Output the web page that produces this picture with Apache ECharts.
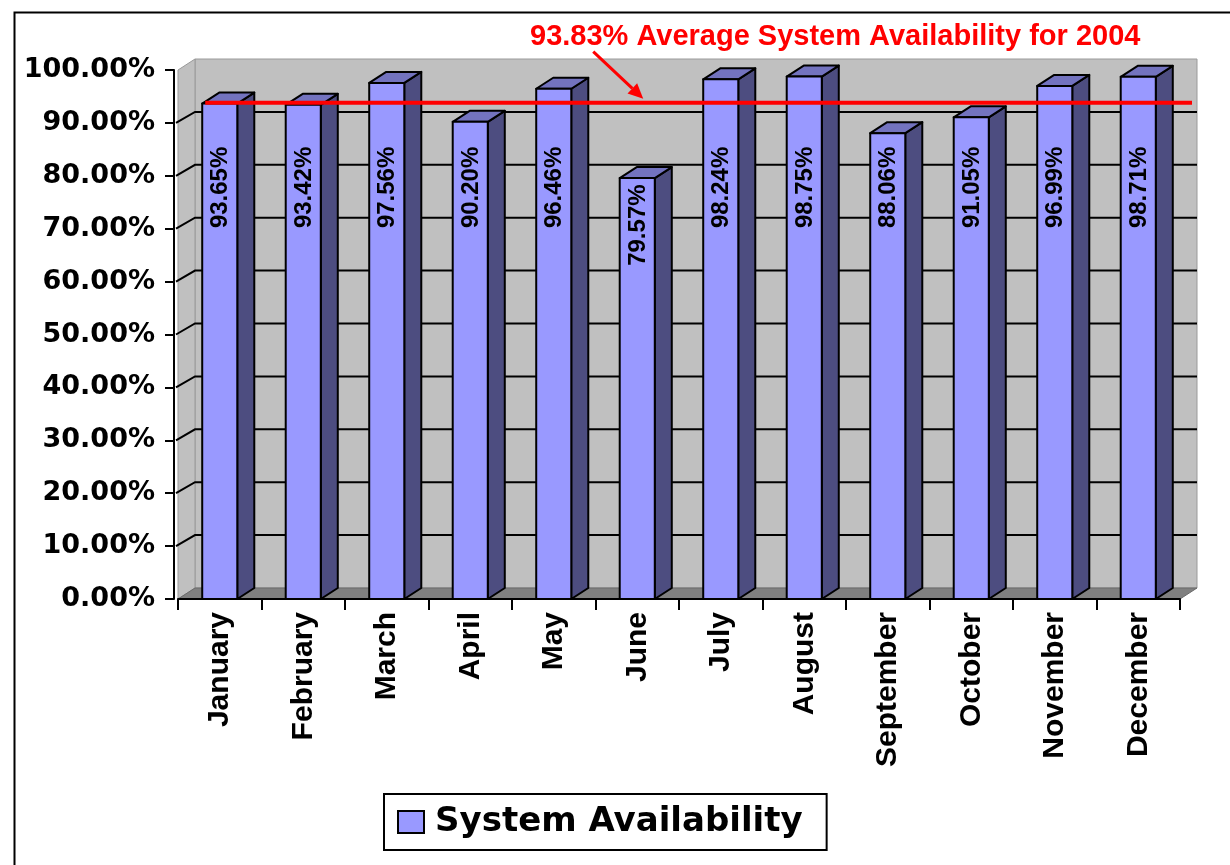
<!DOCTYPE html>
<html>
<head>
<meta charset="utf-8">
<title>System Availability 2004</title>
<script src="https://cdn.jsdelivr.net/npm/echarts@6/dist/echarts.min.js"></script>
<style>
  html, body { margin: 0; padding: 0; background: #ffffff; }
  #chart { width: 1230px; height: 865px; }
</style>
</head>
<body>
<div id="chart"></div>
<script>
// Monthly system availability (%) for 2004
const months = ['January', 'February', 'March', 'April', 'May', 'June',
                'July', 'August', 'September', 'October', 'November', 'December'];
const availability = [93.65, 93.42, 97.56, 90.20, 96.46, 79.57,
                      98.24, 98.75, 88.06, 91.05, 96.99, 98.71];
const averageAvailability = 93.83;
const reportYear = '2004';
const seriesName = 'System Availability';
const gridValues = [10, 20, 30, 40, 50, 60, 70, 80, 90];

// 3D look: offset of the back plane relative to the front plane
const DEPTH_X = 17;
const DEPTH_Y = -11;
const BAR_RATIO = 0.42;

const FONT_ARIAL = '"Liberation Sans", Arial, sans-serif';
const FONT_WIDE = '"DejaVu Sans", Verdana, sans-serif';

const chart = echarts.init(document.getElementById('chart'), null, { renderer: 'canvas' });

// Back wall, side wall, floor and the back-wall gridlines
function renderWalls(params, api) {
  const cs = params.coordSys;
  const left = cs.x, right = cs.x + cs.width;
  const top = cs.y, bottom = cs.y + cs.height;
  const children = [];
  // back wall
  children.push({
    type: 'rect',
    shape: { x: left + DEPTH_X, y: top + DEPTH_Y, width: right - left, height: bottom - top },
    style: { fill: '#C0C0C0', stroke: '#9a9a9a', lineWidth: 1 }
  });
  // left side wall
  children.push({
    type: 'polygon',
    shape: { points: [[left, top], [left + DEPTH_X, top + DEPTH_Y], [left + DEPTH_X, bottom + DEPTH_Y], [left, bottom]] },
    style: { fill: '#C0C0C0', stroke: '#9a9a9a', lineWidth: 1 }
  });
  // floor
  children.push({
    type: 'polygon',
    shape: { points: [[left, bottom], [left + DEPTH_X, bottom + DEPTH_Y], [right + DEPTH_X, bottom + DEPTH_Y], [right, bottom]] },
    style: { fill: '#808080', stroke: '#6a6a6a', lineWidth: 1 }
  });
  // gridlines along the side wall and across the back wall
  gridValues.forEach(function (g) {
    const y = api.coord([0, g])[1];
    children.push({
      type: 'polyline',
      shape: { points: [[left - 2, y], [left + DEPTH_X, y + DEPTH_Y], [right + DEPTH_X, y + DEPTH_Y]] },
      style: { stroke: '#000', lineWidth: 2, fill: null }
    });
  });
  return { type: 'group', children: children };
}

// One 3D column per month: front face, right side, top, and its value label
function renderColumn(params, api) {
  const idx = api.value(0);
  const val = api.value(1);
  const topPt = api.coord([idx, val]);
  const basePt = api.coord([idx, 0]);
  const bw = api.size([1, 0])[0] * BAR_RATIO;
  const x0 = topPt[0] - bw / 2;
  const x1 = topPt[0] + bw / 2;
  const ty = topPt[1];
  const by = basePt[1];
  const edge = { stroke: '#000', lineWidth: 2, lineJoin: 'round' };
  const labelY = api.coord([idx, Math.min(val - 1.2, 85.5)])[1];
  return {
    type: 'group',
    children: [
      {
        type: 'polygon',
        shape: { points: [[x1, ty], [x1 + DEPTH_X, ty + DEPTH_Y], [x1 + DEPTH_X, by + DEPTH_Y], [x1, by]] },
        style: Object.assign({ fill: '#4D4D80' }, edge)
      },
      {
        type: 'polygon',
        shape: { points: [[x0, ty], [x0 + DEPTH_X, ty + DEPTH_Y], [x1 + DEPTH_X, ty + DEPTH_Y], [x1, ty]] },
        style: Object.assign({ fill: '#7373BF' }, edge)
      },
      {
        type: 'rect',
        shape: { x: x0, y: ty, width: bw, height: by - ty },
        style: Object.assign({ fill: '#9999FF' }, edge)
      },
      {
        type: 'text',
        x: topPt[0] + 1,
        y: labelY,
        rotation: Math.PI / 2,
        style: {
          text: val.toFixed(2) + '%',
          fill: '#000',
          font: 'bold 24px ' + FONT_ARIAL,
          align: 'right',
          verticalAlign: 'middle',
          textAlign: 'right',
          textVerticalAlign: 'middle'
        }
      }
    ]
  };
}

// Average line with its pointer arrow
function renderAverage(params, api) {
  const cs = params.coordSys;
  const avg = api.value(1);
  const y = api.coord([0, avg])[1];
  const band = api.size([1, 0])[0];
  const xStart = cs.x + band * (1 - BAR_RATIO) / 2 + 3;
  const xEnd = cs.x + cs.width + DEPTH_X - 5;
  const tip = [api.coord([5, avg])[0] + 6, y - 4];
  const tail = [tip[0] - 50, tip[1] - 47];
  const ang = Math.atan2(tip[1] - tail[1], tip[0] - tail[0]);
  const headLen = 15, headHalf = 7;
  const bx = tip[0] - headLen * Math.cos(ang), byy = tip[1] - headLen * Math.sin(ang);
  const px = -Math.sin(ang) * headHalf, py = Math.cos(ang) * headHalf;
  return {
    type: 'group',
    children: [
      {
        type: 'line',
        shape: { x1: xStart, y1: y, x2: xEnd, y2: y },
        style: { stroke: '#FF0000', lineWidth: 4 }
      },
      {
        type: 'line',
        shape: { x1: tail[0], y1: tail[1], x2: bx, y2: byy },
        style: { stroke: '#FF0000', lineWidth: 3 }
      },
      {
        type: 'polygon',
        shape: { points: [tip, [bx + px, byy + py], [bx - px, byy - py]] },
        style: { fill: '#FF0000' }
      }
    ]
  };
}

const option = {
  animation: false,
  backgroundColor: '#ffffff',
  title: {
    text: averageAvailability.toFixed(2) + '% Average System Availability for ' + reportYear,
    left: 525,
    top: 17,
    textStyle: { color: '#FF0000', fontFamily: FONT_ARIAL, fontWeight: 'bold', fontSize: 29 }
  },
  graphic: [
    {
      type: 'rect',
      left: 12, top: 10,
      shape: { width: 1240, height: 900 },
      style: { fill: null, stroke: '#000', lineWidth: 2 },
      silent: true
    }
  ],
  legend: {
    data: [seriesName],
    left: 384,
    top: 794,
    padding: [11, 24, 11, 13],
    borderColor: '#000',
    borderWidth: 2,
    backgroundColor: '#fff',
    icon: 'rect',
    itemWidth: 26,
    itemHeight: 22,
    itemStyle: { color: '#9999FF', borderColor: '#000', borderWidth: 2 },
    textStyle: { color: '#000', fontFamily: FONT_WIDE, fontWeight: 'bold', fontSize: 34, padding: [0, 0, 0, 6] },
    selectedMode: false
  },
  grid: { left: 178, right: 50, top: 70, bottom: 266, containLabel: false },
  xAxis: {
    type: 'category',
    data: months,
    z: 5,
    boundaryGap: true,
    axisLine: { show: true, lineStyle: { color: '#000', width: 2 } },
    axisTick: { show: true, interval: 0, length: 11, alignWithLabel: false, lineStyle: { color: '#000', width: 2 } },
    axisLabel: {
      interval: 0, rotate: 90, margin: 13,
      color: '#000', fontFamily: FONT_ARIAL, fontWeight: 'bold', fontSize: 30
    },
    splitLine: { show: false }
  },
  yAxis: {
    type: 'value',
    min: 0, max: 100, interval: 10,
    offset: 4,
    z: 5,
    axisLine: { show: true, lineStyle: { color: '#000', width: 2 } },
    axisTick: { show: true, length: 9, lineStyle: { color: '#000', width: 2 } },
    axisLabel: {
      margin: 19,
      color: '#000', fontFamily: FONT_WIDE, fontWeight: 'bold', fontSize: 27,
      formatter: function (v) { return v.toFixed(2) + '%'; }
    },
    splitLine: { show: false }
  },
  series: [
    {
      type: 'custom',
      name: 'walls',
      silent: true,
      clip: false,
      z: 1,
      renderItem: renderWalls,
      data: [[0, 0]]
    },
    {
      type: 'custom',
      name: seriesName,
      silent: true,
      clip: false,
      z: 2,
      itemStyle: { color: '#9999FF' },
      renderItem: renderColumn,
      data: availability.map(function (v, i) { return [i, v]; })
    },
    {
      type: 'custom',
      name: 'average',
      silent: true,
      clip: false,
      z: 3,
      renderItem: renderAverage,
      data: [[0, averageAvailability]]
    }
  ]
};

chart.setOption(option);
</script>
</body>
</html>
